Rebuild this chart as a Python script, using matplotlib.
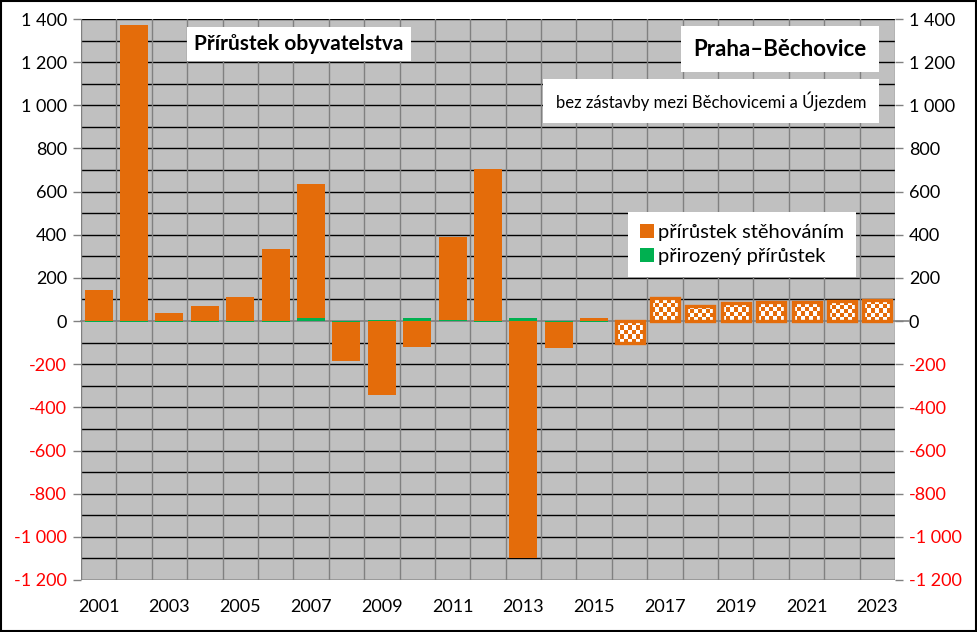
import numpy as np
import matplotlib
matplotlib.use("Agg")
import matplotlib.pyplot as plt
from matplotlib.patches import Patch, Rectangle

# data
years = list(range(2001, 2024))
migration = [145, 1370, 36, 68, 112, 335, 623, -182, -343, -119, 386, 703, -1100, -121, 15,
             -100, 105, 71, 82, 87, 87, 91, 97]
natural = [-3, -3, -3, -2, -5, -5, 12, -4, 4, 14, 3, -3, 14, -3, -3,
           0, 0, 0, 0, 0, 0, -2, -2]
forecast_from = 2016

ORANGE = "#E46C0A"
GREEN = "#00B050"
GREY_BG = "#C0C0C0"

plt.rcParams['font.family'] = ['Lato', 'DejaVu Sans']

fig = plt.figure(figsize=(9.77, 6.32), dpi=100)
ax = fig.add_axes([81 / 977, 1 - 580 / 632, 814 / 977, 561 / 632])
ax.set_facecolor(GREY_BG)

x = np.arange(len(years))
width = 0.79

# natural increase (bottom of stack)
ax.bar(x, natural, width, color=GREEN, zorder=3)

# migration stacked on top of natural when same sign
bottoms = [n if (n > 0) == (m > 0) else 0 for n, m in zip(natural, migration)]
bars = ax.bar(x, migration, width, bottom=bottoms, color=ORANGE, zorder=3)

ax.set_xlim(-0.5, len(years) - 0.5)
ax.set_ylim(-1200, 1400)

# checkered pattern for forecast years
px_per_x = 814 / len(years)
px_per_y = 561 / 2600
cell = 4.2
checker_cmap = matplotlib.colors.ListedColormap([ORANGE, "white"])
for yr, b in zip(years, bars):
    if yr < forecast_from:
        continue
    b.set_facecolor("white")
    x0, y0 = b.get_x(), b.get_y()
    w, h = b.get_width(), b.get_height()
    nx = max(1, int(round(w * px_per_x / cell)))
    ny = max(1, int(round(abs(h) * px_per_y / cell)))
    checker = (np.add.outer(np.arange(ny), np.arange(nx)) % 2).astype(float)
    img = ax.imshow(checker, extent=(x0, x0 + w, y0, y0 + h), cmap=checker_cmap,
                    interpolation="nearest", aspect="auto", zorder=3.5)
    img.set_clip_path(b)
    ax.add_patch(Rectangle((x0, y0), w, h, fill=False, edgecolor=ORANGE, linewidth=2.4, zorder=4))

ax.set_xlim(-0.5, len(years) - 0.5)
ax.set_ylim(-1200, 1400)

# grid
for v in range(-1200, 1401, 100):
    if v == 0:
        continue
    ax.axhline(v, color="black", lw=1.0, zorder=1)
for k in range(len(years) + 1):
    ax.axvline(k - 0.5, color="#808080", lw=1.0, zorder=1)
ax.plot([-0.5, len(years) - 0.5 + 0.4], [0, 0], color="#808080", lw=1.2, zorder=2, clip_on=False)

for s in ax.spines.values():
    s.set_visible(False)

# y ticks
yt = list(range(-1200, 1401, 200))


def fmt(v):
    s = f"{abs(v):,}".replace(",", " ")
    return ("-" if v < 0 else "") + s


ax.set_yticks(yt)
ax.set_yticklabels([fmt(v) for v in yt], fontsize=13)
ax.tick_params(axis="y", length=6, width=1, color="#808080", left=True, right=True,
               labelleft=True, labelright=True, pad=4)
for t in ax.yaxis.get_major_ticks():
    c = "red" if t.get_loc() < 0 else "black"
    t.label1.set_color(c)
    t.label2.set_color(c)

ax.set_xticks(x[::2])
ax.set_xticklabels([str(y) for y in years[::2]], fontsize=13)
ax.tick_params(axis="x", length=0, pad=14)

# text boxes
ax.text((299 - 81) / 814, (580 - 44) / 561, "Přírůstek obyvatelstva", transform=ax.transAxes,
        ha="center", va="center", fontsize=15, fontweight="bold",
        bbox=dict(facecolor="white", edgecolor="none", pad=5), zorder=6)
ax.text((780 - 81) / 814, (580 - 49) / 561, "Praha–Běchovice", transform=ax.transAxes,
        ha="center", va="center", fontsize=16, fontweight="bold",
        bbox=dict(facecolor="white", edgecolor="none", pad=9), zorder=6)
ax.text((711 - 81) / 814, (580 - 101) / 561, "bez zástavby mezi Běchovicemi a Újezdem", transform=ax.transAxes,
        ha="center", va="center", fontsize=12,
        bbox=dict(facecolor="white", edgecolor="none", pad=9), zorder=6)

handles = [Patch(facecolor=ORANGE, label="přírůstek stěhováním"),
           Patch(facecolor=GREEN, label="přirozený přírůstek")]
leg = ax.legend(handles=handles, loc="upper left", bbox_to_anchor=((628 - 81) / 814, (580 - 212) / 561),
                fontsize=14.5, frameon=True, fancybox=False, framealpha=1, edgecolor="white",
                handlelength=0.7, handleheight=0.7, handletextpad=0.2, borderpad=0.6,
                labelspacing=0.35, borderaxespad=0)
leg.set_zorder(7)
leg.get_frame().set_linewidth(0)
# widen the legend box a little on the left like the reference
leg._legend_box.sep = 4

# figure border
fig.patches.append(Rectangle((0.001, 0.001), 0.998, 0.998, transform=fig.transFigure,
                             fill=False, edgecolor="black", linewidth=1.5))

fig.savefig("out.png", dpi=100)
